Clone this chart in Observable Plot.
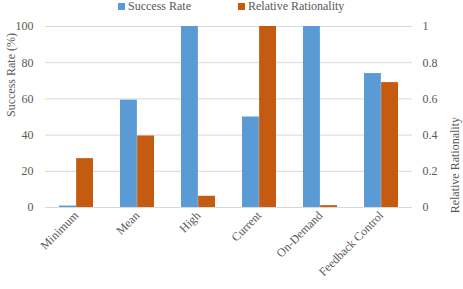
<!DOCTYPE html>
<html>
<head>
<meta charset="utf-8">
<script src="https://cdn.jsdelivr.net/npm/d3@7"></script>
<script src="https://cdn.jsdelivr.net/npm/@observablehq/plot@0.6"></script>
<style>
  html, body { margin: 0; padding: 0; background: #fff; }
  #wrap { position: relative; width: 463px; height: 289px; font-family: 'Liberation Serif', serif; }
  #legend { position: absolute; top: 0; left: 0; width: 463px; height: 14px; font-size: 12px; color: #595959; font-family: 'Liberation Serif', serif; }
  .item { position: absolute; top: 0; line-height: 13px; white-space: nowrap; font-family: 'Liberation Serif', serif; }
  .sw { display: inline-block; width: 7px; height: 7px; margin-right: 3px; vertical-align: 0px; }
  svg text { font-family: 'Liberation Serif', serif; }
</style>
</head>
<body>
<div id="wrap">
  <div id="chart"></div>
  <div id="legend"></div>
</div>
<script>
const categories = ["Minimum", "Mean", "High", "Current", "On-Demand", "Feedback Control"];
const successRate = [0.8, 59.3, 100, 50, 100, 74];
const relativeRationality = [0.27, 0.395, 0.062, 1.0, 0.01, 0.69];
const leftTicks = [0, 20, 40, 60, 80, 100];
const seriesNames = ["Success Rate", "Relative Rationality"];
const colors = ["#5B9BD5", "#C55A11"];

const W = 463, H = 289;
const mL = 45, mR = 51, mT = 26, mB = 82;
const padInner = 0.44;
const step = (W - mL - mR) / categories.length;
const half = step * (1 - padInner) / 2;
const FF = "'Liberation Serif', serif";

const data = categories.map((c, i) => ({cat: c, sr: successRate[i], rr: relativeRationality[i] * 100}));

const plot = Plot.plot({
  width: W, height: H,
  marginLeft: mL, marginRight: mR, marginTop: mT, marginBottom: mB,
  style: {fontFamily: FF, fontSize: "12px", color: "#595959", background: "#fff"},
  x: {domain: categories, paddingInner: padInner, paddingOuter: padInner / 2},
  y: {domain: [0, 100]},
  marks: [
    Plot.ruleY(leftTicks, {stroke: "#d9d9d9", strokeWidth: 1}),
    Plot.barY(data, {x: "cat", y: "sr", fill: colors[0], insetRight: half}),
    Plot.barY(data, {x: "cat", y: "rr", fill: colors[1], insetLeft: half}),
    Plot.axisY({anchor: "left", ticks: leftTicks, tickSize: 0, tickPadding: 12, label: null, fill: "#595959", fontFamily: FF}),
    Plot.axisY({anchor: "right", ticks: leftTicks, tickSize: 0, tickPadding: 10, tickFormat: d => String(d / 100), label: null, fill: "#595959", textAnchor: "start", fontFamily: FF}),
    Plot.axisX({tickSize: 0, tickPadding: 6, tickRotate: -45, label: null, fill: "#595959", fontFamily: FF}),
    Plot.text(["Success Rate (%)"], {frameAnchor: "left", dx: -34, rotate: -90, fill: "#595959", fontSize: 12, fontFamily: FF}),
    Plot.text(["Relative Rationality"], {frameAnchor: "right", dx: 43, rotate: -90, fill: "#595959", fontSize: 12, fontFamily: FF})
  ]
});
document.getElementById("chart").appendChild(plot);

const legend = document.getElementById("legend");
const lx = [118, 238];
seriesNames.forEach((name, i) => {
  const d = document.createElement("div");
  d.className = "item";
  d.style.left = lx[i] + "px";
  d.innerHTML = `<span class="sw" style="background:${colors[i]}"></span>${name}`;
  legend.appendChild(d);
});
</script>
</body>
</html>
